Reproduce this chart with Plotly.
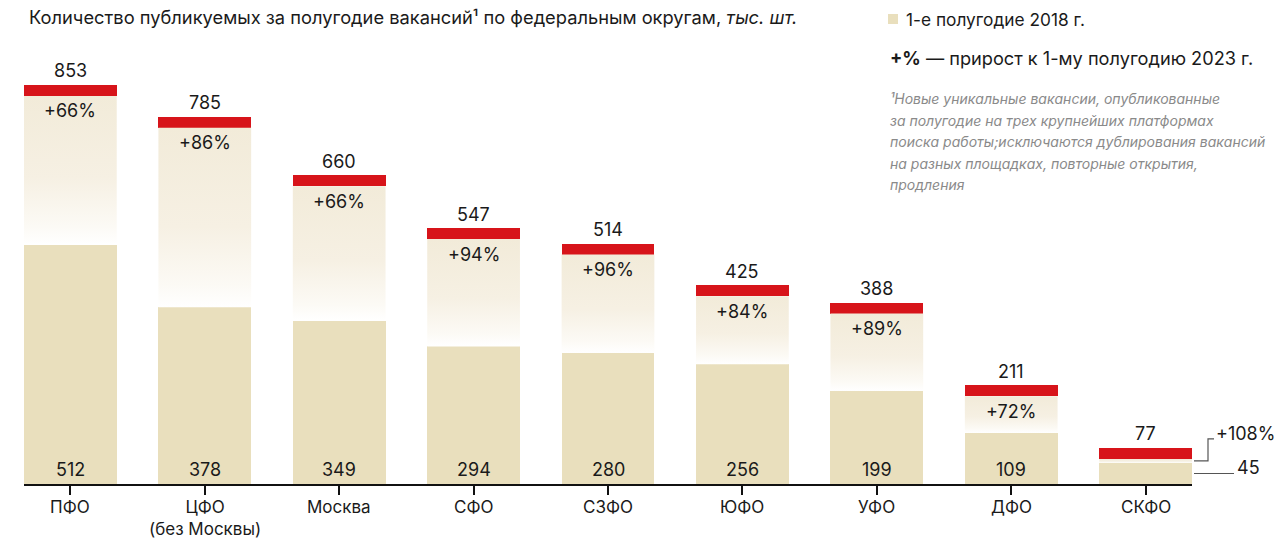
import plotly.graph_objects as go

# ---- data ----
districts = ["ПФО", "ЦФО<br>(без Москвы)", "Москва", "СФО", "СЗФО", "ЮФО", "УФО", "ДФО", "СКФО"]
vac_2023 = [853, 785, 660, 547, 514, 425, 388, 211, 77]
vac_2018 = [512, 378, 349, 294, 280, 256, 199, 109, 45]
growth = ["+66%", "+86%", "+66%", "+94%", "+96%", "+84%", "+89%", "+72%", "+108%"]

title_main = "Количество публикуемых за полугодие вакансий¹ по федеральным округам, <i>тыс. шт.</i>"
legend_2018 = "1-е полугодие 2018 г."
legend_growth = "<b>+%</b> — прирост к 1-му полугодию 2023 г."
footnote = [
    "¹Новые уникальные вакансии, опубликованные",
    "за полугодие на трех крупнейших платформах",
    "поиска работы;исключаются дублирования вакансий",
    "на разных площадках, повторные открытия,",
    "продления",
]

# ---- style / layout ----
W, H = 1278, 538
PLOT_L, PLOT_R, PLOT_T, PLOT_B = 24, 1192, 63, 484   # in screenshot pixels
ML, MT = PLOT_L, PLOT_T
PW, PH = PLOT_R - PLOT_L, PLOT_B - PLOT_T
MR, MB = W - ML - PW, H - MT - PH
YMAX = 900
BAR_W = 0.69
CAP = 23.5  # red cap thickness in data units (~11px)
BEIGE = "#e9dfbd"
RED = "#d7141a"
TXT = "#1a1a1a"
FONT = "Inter"
n = len(districts)
idx = list(range(n))
XMIN, XMAX = -BAR_W / 2, n - 1 + BAR_W / 2
PX_PER_UNIT = PH / YMAX


def px_x(p):
    return (p - PLOT_L) / PW


def px_y(p):
    return (PLOT_B - p) / PH


def data_to_py(v):
    return PLOT_B - v * PX_PER_UNIT


fig = go.Figure()

# gradient segments between 2018 value and red cap
for i in idx:
    lo, hi = vac_2018[i], vac_2023[i] - CAP
    fig.add_trace(go.Scatter(
        x=[i - BAR_W / 2, i + BAR_W / 2, i + BAR_W / 2, i - BAR_W / 2, i - BAR_W / 2],
        y=[lo, lo, hi, hi, lo],
        mode="lines", line=dict(width=0), fill="toself",
        fillgradient=dict(type="vertical",
                          colorscale=[[0, "#ffffff"], [0.12, "#fcfaf5"], [0.45, "#f6f0e3"], [1, "#f2ebd9"]],
                          start=lo, stop=hi),
        hoverinfo="skip", showlegend=False,
    ))

fig.add_trace(go.Bar(x=idx, y=vac_2018, width=BAR_W, marker=dict(color=BEIGE, line=dict(width=0)),
                     hoverinfo="skip", showlegend=False))
fig.add_trace(go.Bar(x=idx, y=[CAP] * n, base=[v - CAP for v in vac_2023], width=BAR_W,
                     marker=dict(color=RED, line=dict(width=0)), hoverinfo="skip", showlegend=False))

LBL = dict(size=18, color=TXT, family=FONT)
ann = []
for i in idx:
    ann.append(dict(x=i, y=vac_2023[i], xref="x", yref="y", text=str(vac_2023[i]), showarrow=False,
                    yshift=14, font=LBL))
    if i < n - 1:
        ann.append(dict(x=i, y=vac_2023[i], xref="x", yref="y", text=growth[i], showarrow=False,
                        yshift=-26, font=LBL))
        ann.append(dict(x=i, y=0, xref="x", yref="y", text=str(vac_2018[i]), showarrow=False,
                        yshift=15, font=LBL))
    # category labels
    ann.append(dict(x=i, y=px_y(495), xref="x", yref="paper", text=districts[i], showarrow=False,
                    yanchor="top", font=dict(size=17, color=TXT, family=FONT)))

# last bar: labels on the right with leader lines
last = n - 1
cap_bottom_px = data_to_py(vac_2023[last] - CAP)
grad_mid_px = data_to_py((vac_2018[last] + vac_2023[last] - CAP) / 2)
base_mid_px = data_to_py(vac_2018[last] / 2)
pct_px = cap_bottom_px - 25
ann.append(dict(x=px_x(1214), y=px_y(pct_px), xref="paper", yref="paper", text=growth[last],
                showarrow=False, xanchor="left", yanchor="middle", font=LBL))
ann.append(dict(x=px_x(1235), y=px_y(base_mid_px - 6), xref="paper", yref="paper", text=str(vac_2018[last]),
                showarrow=False, xanchor="left", yanchor="middle", font=LBL))

shapes = [
    dict(type="path", xref="paper", yref="paper",
         path=f"M {px_x(1194)} {px_y(grad_mid_px)} L {px_x(1208)} {px_y(grad_mid_px)} "
              f"L {px_x(1208)} {px_y(pct_px + 5)} L {px_x(1214)} {px_y(pct_px + 5)}",
         line=dict(color="#555", width=1.2)),
    dict(type="line", xref="paper", yref="paper",
         x0=px_x(1194), x1=px_x(1234), y0=px_y(base_mid_px), y1=px_y(base_mid_px),
         line=dict(color="#555", width=1.2)),
    # legend swatch
    dict(type="rect", xref="paper", yref="paper", x0=px_x(888), x1=px_x(898), y0=px_y(24), y1=px_y(14),
         fillcolor=BEIGE, line=dict(width=0)),
]

# title and legend texts
ann.append(dict(x=px_x(27), y=px_y(17), xref="paper", yref="paper", xanchor="left", yanchor="middle",
                text=title_main, showarrow=False, font=dict(size=18.3, color=TXT, family=FONT)))
ann.append(dict(x=px_x(904), y=px_y(19), xref="paper", yref="paper", xanchor="left", yanchor="middle",
                text=legend_2018, showarrow=False, font=dict(size=17.3, color=TXT, family=FONT)))
ann.append(dict(x=px_x(888), y=px_y(58), xref="paper", yref="paper", xanchor="left", yanchor="middle",
                text=legend_growth, showarrow=False, font=dict(size=18.2, color=TXT, family=FONT)))
for k, line in enumerate(footnote):
    ann.append(dict(x=px_x(888), y=px_y(99 + 21.4 * k), xref="paper", yref="paper", xanchor="left",
                    yanchor="middle", text=f"<i>{line}</i>", showarrow=False,
                    font=dict(size=14, color="#8a8a8a", family=FONT)))

fig.update_layout(
    width=W, height=H,
    margin=dict(l=ML, r=MR, t=MT, b=MB, autoexpand=False),
    paper_bgcolor="white", plot_bgcolor="white",
    barmode="overlay", bargap=0,
    xaxis=dict(range=[XMIN, XMAX], tickmode="array", tickvals=idx, showticklabels=False,
               showline=True, linecolor="#111", linewidth=1.5, ticks="outside", ticklen=9,
               tickwidth=2, tickcolor="#111", showgrid=False, zeroline=False, fixedrange=True),
    yaxis=dict(range=[0, YMAX], visible=False, fixedrange=True),
    annotations=ann, shapes=shapes,
    showlegend=False, hovermode=False,
)

fig.write_html("out.html", config={"displayModeBar": False},
               post_script="document.body.style.margin='0';document.body.style.overflow='hidden';")
